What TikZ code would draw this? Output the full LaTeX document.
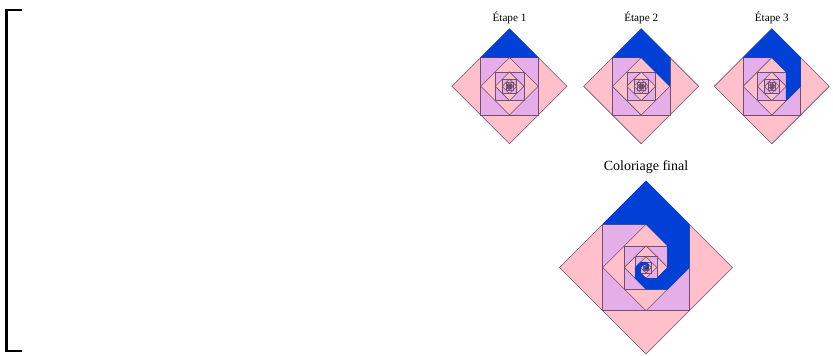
\documentclass[tikz,border=0pt]{standalone}
\usepackage{fontspec}
\setmainfont{Liberation Serif}
\usetikzlibrary{calc}
\definecolor{Rose}{HTML}{FFC0CB}
\definecolor{Lilas}{HTML}{E6AEE8}
\definecolor{Bleu}{HTML}{0040D6}
\definecolor{Trait}{HTML}{6E506C}
\tikzset{
  carre/.style={draw=Trait,line width=0.6pt},
  bleu/.style={fill=Bleu,draw=Bleu,line width=0.4pt,line join=round},
  etiq/.style={font=\fontsize{11.2}{13}\selectfont,inner sep=0pt}}
% #1 centre, #2 demi-diagonale, #3 dernier carre, #4 dernier triangle bleu
\newcommand{\spirale}[4]{%
  \begin{scope}[shift={(#1)}]
    \foreach \m in {0,...,#3}{
      \pgfmathsetmacro{\c}{#2/sqrt(2)^\m}
      \pgfmathsetmacro{\t}{90-45*\m}
      \ifodd\m \def\coul{Lilas}\else\def\coul{Rose}\fi
      \filldraw[carre,fill=\coul] (\t:\c) -- (\t+90:\c) -- (\t+180:\c)
        -- (\t+270:\c) -- cycle;
    }
    \ifnum#4>-1
    \foreach \m in {0,...,#4}{
      \pgfmathsetmacro{\c}{#2/sqrt(2)^\m}
      \pgfmathsetmacro{\d}{\c/sqrt(2)}
      \pgfmathsetmacro{\t}{90-45*\m}
      \filldraw[bleu] (\t:\c) -- (\t+45:\d) -- (\t-45:\d) -- cycle;
    }
    \fi
  \end{scope}}

\begin{document}
\begin{tikzpicture}[x=1pt,y=1pt]
  \useasboundingbox (0,0) rectangle (833,356);
  % crochet
  \draw[line width=2.7pt] (21.5,346) -- (6.5,346) -- (6.5,5) -- (21.5,5);
  % centres
  \coordinate (e1) at (509.5,269.7);
  \coordinate (e2) at (641.2,269.7);
  \coordinate (e3) at (771.8,269.7);
  \coordinate (fin) at (646,88.5);
  \spirale{e1}{57.5}{20}{0}
  \spirale{e2}{57.5}{20}{1}
  \spirale{e3}{57.5}{20}{2}
  \spirale{fin}{86.5}{20}{20}
  % titres
  \node[etiq] (t1) at (509.5,338.5) {Étape 1};
  \node[etiq] (t2) at (641.2,338.5) {Étape 2};
  \node[etiq] (t3) at (771.8,338.5) {Étape 3};
  \node[etiq,font=\fontsize{14}{16}\selectfont] (tf) at (646,188.5) {Coloriage final};
\end{tikzpicture}
\end{document}
